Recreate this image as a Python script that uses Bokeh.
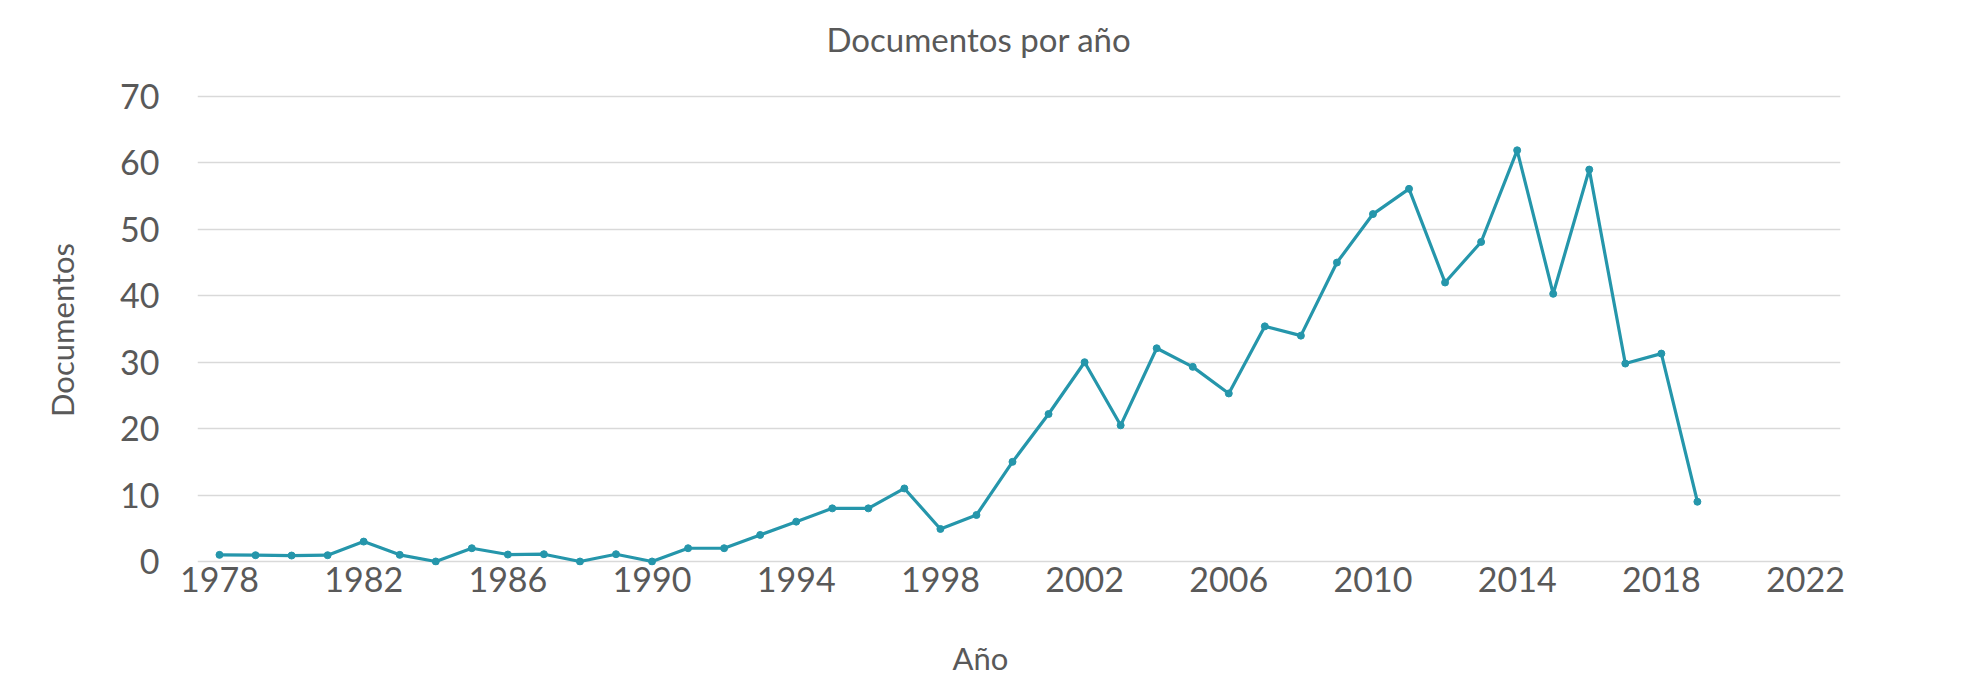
from bokeh.plotting import figure
from bokeh.models import Range1d, FixedTicker, Title, LinearAxis
from bokeh.embed import file_html
from bokeh.resources import INLINE

# ---- data ----
years = list(range(1978, 2020))
documentos = [1, 0.95, 0.9, 0.95, 3, 1, 0, 2, 1.05, 1.1,
              0, 1.1, 0, 2, 2, 4, 6, 8, 8, 11,
              4.9, 7, 15, 22.2, 30, 20.5, 32.1, 29.3, 25.3, 35.4,
              34, 45, 52.3, 56.1, 42, 48.1, 61.9, 40.3, 59, 29.8,
              31.3, 9]
x_ticks = [1978, 1982, 1986, 1990, 1994, 1998, 2002, 2006, 2010, 2014, 2018, 2022]
y_ticks = [0, 10, 20, 30, 40, 50, 60, 70]

title_text = "Documentos por año"
x_label = "Año"
y_label = "Documentos"

# ---- styling ----
FONT = "Lato"
TXT = "#595959"
LINE = "#2596ab"
GRID = "#d9d9d9"

p = figure(width=1945, height=696, output_backend="svg", toolbar_location=None,
           x_range=Range1d(1977.39, 2022.97), y_range=Range1d(-0.6, 70.3),
           min_border_left=197, min_border_right=105,
           min_border_top=94, min_border_bottom=131)
p.outline_line_color = None
p.background_fill_color = "white"
p.border_fill_color = "white"

xa = p.xaxis[0]
ya = p.yaxis[0]

p.xgrid.visible = False
p.ygrid.ticker = FixedTicker(ticks=y_ticks)
p.ygrid.grid_line_color = GRID
p.ygrid.grid_line_width = 1.4

for ax in (xa, ya):
    ax.axis_line_color = None
    ax.major_tick_line_color = None
    ax.minor_tick_line_color = None
    ax.major_tick_out = 0
    ax.major_tick_in = 0
    ax.major_label_text_font = FONT
    ax.major_label_text_font_size = "34px"
    ax.major_label_text_color = TXT

xa.ticker = FixedTicker(ticks=x_ticks)
xa.major_label_standoff = 1
ya.ticker = FixedTicker(ticks=y_ticks)
ya.major_label_standoff = 38

ya.axis_label = y_label
ya.axis_label_standoff = 36
ya.axis_label_text_font = FONT
ya.axis_label_text_font_size = "31px"
ya.axis_label_text_font_style = "normal"
ya.axis_label_text_color = TXT


def spacer(height):
    # a blank axis (white tick on white, empty label): only reserves space
    anchor = x_ticks[0]
    ax = LinearAxis(ticker=FixedTicker(ticks=[anchor]))
    ax.axis_line_color = None
    ax.minor_tick_line_color = None
    ax.major_tick_line_color = "white"
    ax.major_tick_in = 0
    ax.major_tick_out = height
    ax.major_label_overrides = {anchor: ""}
    ax.major_label_text_font_size = "1px"
    ax.major_label_standoff = 0
    return ax


# blank gap between frame and title
p.add_layout(spacer(31), "above")

p.title.text = title_text
p.title.align = "left"
p.title.offset = 629
p.title.text_font = FONT
p.title.text_font_size = "33px"
p.title.text_font_style = "normal"
p.title.text_color = TXT
p.title.standoff = 10

# blank gap between tick labels and x-axis title
p.add_layout(spacer(39), "below")
p.add_layout(Title(text=x_label, align="left", offset=755, standoff=10,
                   vertical_align="top",
                   text_font=FONT, text_font_size="31px", text_font_style="normal",
                   text_color=TXT), "below")

p.line(years, documentos, line_color=LINE, line_width=3.2)
p.scatter(years, documentos, size=7, fill_color=LINE, line_color=LINE)

open("out.html", "w").write(file_html(p, INLINE))
